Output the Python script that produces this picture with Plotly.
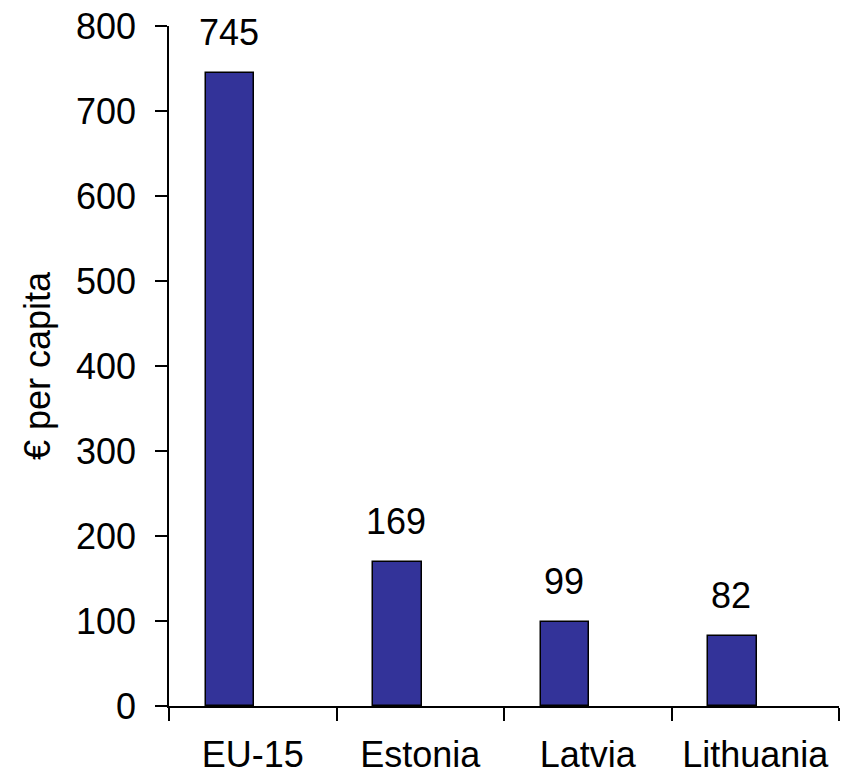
import plotly.graph_objects as go

categories = ["EU-15", "Estonia", "Latvia", "Lithuania"]
values = [745, 169, 99, 82]
y_ticks = [0, 100, 200, 300, 400, 500, 600, 700, 800]
y_title = "€ per capita"

FONT = "Liberation Sans, Arial, sans-serif"
BAR_COLOR = "#333399"

fig = go.Figure()
fig.add_trace(go.Bar(
    x=categories,
    y=values,
    width=0.29,
    offset=-0.28,
    marker=dict(color=BAR_COLOR, line=dict(color="black", width=1.5)),
    showlegend=False,
))

for c, v in zip(categories, values):
    fig.add_annotation(
        x=c, y=v, text=str(v), showarrow=False,
        xref="x", yref="y", yanchor="bottom",
        xshift=-24, yshift=18,
        font=dict(family=FONT, size=36, color="black"),
    )

fig.update_layout(
    template="none",
    width=842, height=776,
    margin=dict(l=169, r=3, t=26, b=70),
    paper_bgcolor="white", plot_bgcolor="white",
    font=dict(family=FONT, size=36, color="black"),
    bargap=0,
)
fig.update_xaxes(
    type="category",
    range=[-0.5, 3.5],
    tickson="boundaries",
    automargin=False,
    ticks="outside", ticklen=13, tickwidth=1.5, tickcolor="black",
    showline=True, linecolor="black", linewidth=1.5,
    showgrid=False, zeroline=False,
    tickfont=dict(family=FONT, size=36, color="black"),
    ticklabelstandoff=16,
)
fig.update_yaxes(
    range=[0, 800],
    tickvals=y_ticks,
    automargin=False,
    ticklabeloverflow="allow",
    ticks="outside", ticklen=12, tickwidth=1.5, tickcolor="black",
    showline=True, linecolor="black", linewidth=1.5,
    showgrid=False, zeroline=False,
    tickfont=dict(family=FONT, size=36, color="black"),
    ticklabelstandoff=12,
    title=dict(text=y_title, font=dict(family=FONT, size=36, color="black"), standoff=14),
)

# remove the browser's default 8px body margin so the figure fills the window
fig.write_html(
    "out.html",
    config={"displayModeBar": False},
    post_script="document.body.style.margin='0';",
)
